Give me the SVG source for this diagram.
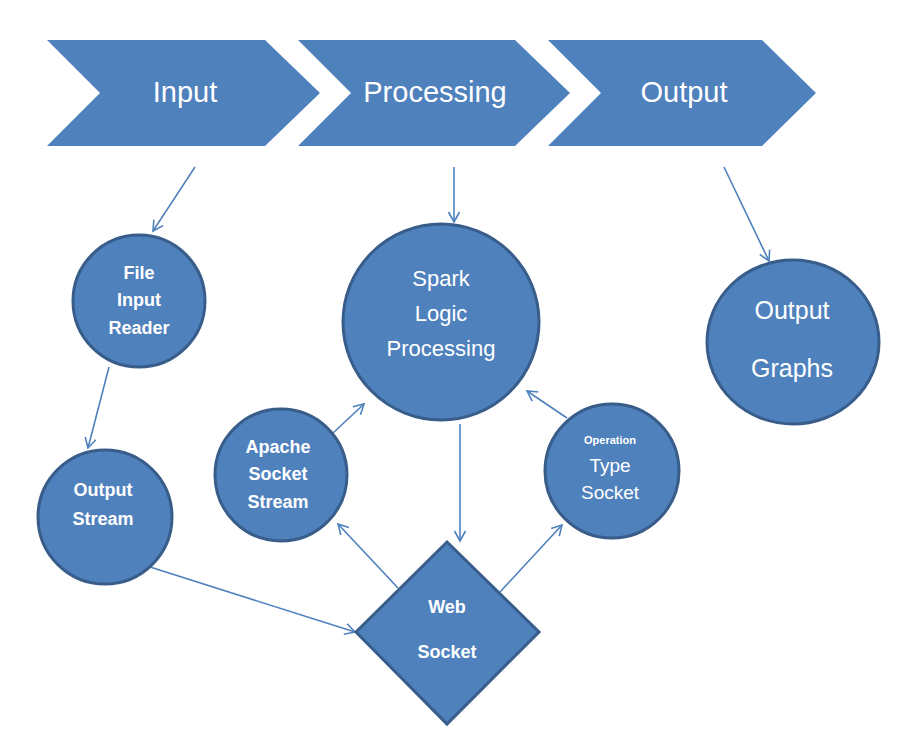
<svg xmlns="http://www.w3.org/2000/svg" width="902" height="739" viewBox="0 0 902 739">
<style>
.chev{fill:#4F81BD;}
.node{fill:#4F81BD;stroke:#385D8A;stroke-width:3;}
.t{fill:#FFFFFF;font-family:"Liberation Sans",Arial,sans-serif;text-anchor:middle;dominant-baseline:central;}
.b{font-weight:bold;font-size:18px;}
.r{font-size:22px;}
.big{font-size:29px;}
.c{fill:none;stroke:#4F81BD;stroke-width:1.6;}
</style>
<defs>
<marker id="arr" markerUnits="userSpaceOnUse" markerWidth="14" markerHeight="14" viewBox="0 0 14 14" refX="12" refY="7" orient="auto">
<path d="M2,1.5 L12,7 L2,12.5" fill="none" stroke="#4F81BD" stroke-width="1.6"/>
</marker>
</defs>
<rect width="902" height="739" fill="#FFFFFF"/>
<g id="chevron-input">
<polygon class="chev" points="47,40 265,40 320,93 265,146 47,146 100,93"/>
<text class="t big" x="185" y="92">Input</text>
</g>
<g id="chevron-processing">
<polygon class="chev" points="298,40 515,40 570,93 515,146 298,146 351,93"/>
<text class="t big" x="435" y="92">Processing</text>
</g>
<g id="chevron-output">
<polygon class="chev" points="548,40 762,40 816,93 762,146 548,146 601,93"/>
<text class="t big" x="684" y="92">Output</text>
</g>
<g id="connectors">
<line class="c" x1="195" y1="167" x2="153" y2="231" marker-end="url(#arr)"/>
<line class="c" x1="454" y1="167" x2="454" y2="222" marker-end="url(#arr)"/>
<line class="c" x1="724" y1="167" x2="769" y2="261" marker-end="url(#arr)"/>
<line class="c" x1="109" y1="367" x2="88" y2="448" marker-end="url(#arr)"/>
<line class="c" x1="150" y1="567" x2="355" y2="632" marker-end="url(#arr)"/>
<line class="c" x1="460" y1="424" x2="460" y2="541" marker-end="url(#arr)"/>
<line class="c" x1="398" y1="588" x2="338" y2="524" marker-end="url(#arr)"/>
<line class="c" x1="500" y1="592" x2="562" y2="525" marker-end="url(#arr)"/>
<line class="c" x1="333" y1="433" x2="364" y2="404" marker-end="url(#arr)"/>
<line class="c" x1="567" y1="418" x2="527" y2="391" marker-end="url(#arr)"/>
</g>
<g id="file-input-reader">
<circle class="node" cx="139" cy="301" r="66"/>
<text class="t b" x="139" y="273">File</text>
<text class="t b" x="139" y="300">Input</text>
<text class="t b" x="139" y="328">Reader</text>
</g>
<g id="spark-logic-processing">
<circle class="node" cx="441" cy="322" r="98"/>
<text class="t r" x="441" y="278">Spark</text>
<text class="t r" x="441" y="313">Logic</text>
<text class="t r" x="441" y="348">Processing</text>
</g>
<g id="output-graphs">
<ellipse class="node" cx="793" cy="342" rx="86" ry="82"/>
<text class="t" x="792" y="310" font-size="25">Output</text>
<text class="t" x="792" y="368" font-size="25">Graphs</text>
</g>
<g id="output-stream">
<circle class="node" cx="105" cy="517" r="67"/>
<text class="t b" x="103" y="490">Output</text>
<text class="t b" x="103" y="519">Stream</text>
</g>
<g id="apache-socket-stream">
<circle class="node" cx="281" cy="475" r="66"/>
<text class="t b" x="278" y="447">Apache</text>
<text class="t b" x="278" y="474">Socket</text>
<text class="t b" x="278" y="502">Stream</text>
</g>
<g id="operation-type-socket">
<circle class="node" cx="612" cy="471" r="67"/>
<text class="t" x="610" y="440" font-size="11" font-weight="bold">Operation</text>
<text class="t" x="610" y="465" font-size="19">Type</text>
<text class="t" x="610" y="492" font-size="19">Socket</text>
</g>
<g id="web-socket">
<polygon class="node" points="447,542 539,632 447,724 356,632"/>
<text class="t b" x="447" y="607">Web</text>
<text class="t b" x="447" y="652">Socket</text>
</g>
</svg>
